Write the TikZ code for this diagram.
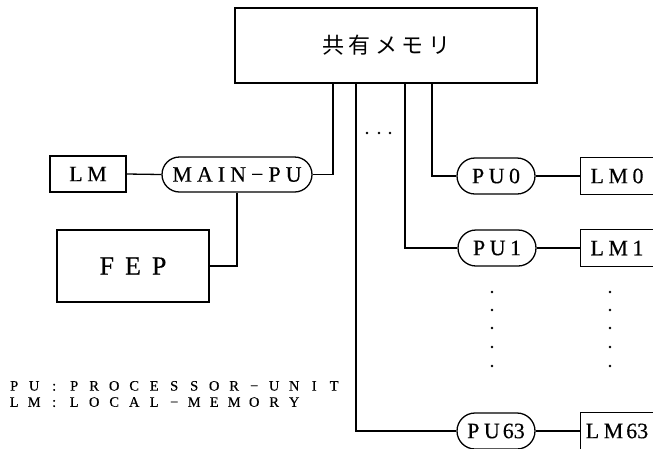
\documentclass[tikz,border=0pt]{standalone}
\usepackage{fontspec}
\setmainfont{Liberation Serif}[FakeBold=0.3]
\newfontfamily\jpfont{Noto Sans CJK JP}
\usetikzlibrary{shapes.misc}
\newcommand\gs{\hspace{4.5pt}}
\newcommand\cb[1]{\makebox[20pt]{#1}}
\begin{document}
\begin{tikzpicture}[x=1pt,y=-1pt,
  conn/.style={line width=1.3pt},
  pu/.style={draw,line width=1.3pt,rounded rectangle,minimum width=78pt,minimum height=36pt,inner sep=0pt,font=\fontsize{22}{24}\selectfont},
  box/.style={draw,line width=1.3pt,rectangle,inner sep=0pt,font=\fontsize{22}{24}\selectfont},
  lmbox/.style={rectangle,minimum width=72pt,minimum height=36pt,inner sep=0pt,font=\fontsize{22}{24}\selectfont},
  dot/.style={circle,fill,inner sep=0pt,minimum size=2.6pt},
  legend/.style={anchor=west,inner sep=0pt,align=left,font=\fontsize{14.5}{16.2}\selectfont}]
\useasboundingbox (0,0) rectangle (653,448);
\clip (0,0) rectangle (653,448);
% shared memory
\node[box,minimum width=302pt,minimum height=75pt] (mem) at (386,45.5) {{\jpfont 共\gs 有\gs メ\gs モ\gs リ}\hspace{22pt}};
\coordinate (tm) at (333,83);
\coordinate (t63) at (356,83);
\coordinate (t1) at (405,83);
\coordinate (t0) at (432,83);
% main side
\node[box,minimum width=76pt,minimum height=36pt] (lm) at (88,174) {L\gs M};
\node[pu,minimum width=150pt,minimum height=35pt] (main) at (237,174.5) {M\hspace{5pt}A\hspace{5pt}I\hspace{5pt}N\hspace{5pt}−\hspace{5pt}P\hspace{5pt}U};
\node[box,minimum width=152pt,minimum height=72pt,font=\fontsize{26}{28}\selectfont] (fep) at (133,266) {F\hspace{11pt}E\hspace{11pt}P};
% PUs
\node[pu] (pu0) at (496,176) {P\gs U\gs 0};
\node[pu] (pu1) at (497,248) {P\gs U\gs 1};
\node[pu] (pu63) at (496,431) {P\gs U\hspace{3pt}63};
% LMs (open to the right edge)
\node[lmbox] (lm0) at (617,176) {L\gs M\gs 0};
\node[lmbox] (lm1) at (617,248) {L\gs M\gs 1};
\node[lmbox] (lm63) at (617,431) {L\gs M\hspace{3pt}63};
\foreach \n in {lm0,lm1,lm63}
  \draw[conn] (\n.north east) -- (\n.north west) -- (\n.south west) -- (\n.south east);
% connectors
\draw[conn] (main.east) -| (tm);
\draw[conn] (t0) |- (pu0.west);
\draw[conn] (t1) |- (pu1.west);
\draw[conn] (t63) |- (pu63.west);
\draw[conn] (pu0.east) -- (lm0.west);
\draw[conn] (pu1.east) -- (lm1.west);
\draw[conn] (pu63.east) -- (lm63.west);
\draw[conn] (lm.east) -- (main.west);
\draw[conn] (main.south) |- (fep.east);
% dots
\node[dot] (h1) at (367,133) {};
\node[dot] (h2) at (379,133) {};
\node[dot] (h3) at (390,133) {};
\foreach \y [count=\i] in {292,310,328,347,366} {
  \node[dot] (p\i) at (492,\y) {};
  \node[dot] (q\i) at (610,\y) {};
}
% legend
\node[legend] (leg) at (4,394) {\cb{P}\cb{U}\cb{:}\cb{P}\cb{R}\cb{O}\cb{C}\cb{E}\cb{S}\cb{S}\cb{O}\cb{R}\cb{−}\cb{U}\cb{N}\cb{I}\cb{T}\\
\cb{L}\cb{M}\cb{:}\cb{L}\cb{O}\cb{C}\cb{A}\cb{L}\cb{−}\cb{M}\cb{E}\cb{M}\cb{O}\cb{R}\cb{Y}};
\end{tikzpicture}
\end{document}
